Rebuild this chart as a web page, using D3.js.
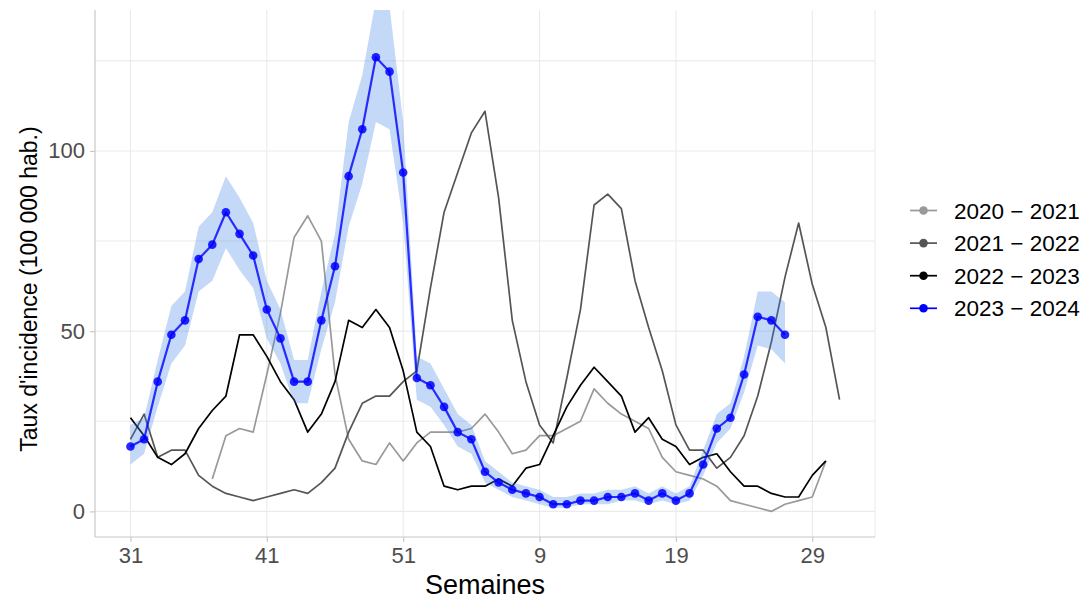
<!DOCTYPE html>
<html>
<head>
<meta charset="utf-8">
<script src="https://cdn.jsdelivr.net/npm/d3@7"></script>
<style>
body { margin: 0; background: #fff; }
svg { font-family: "Liberation Sans", Arial, sans-serif; }
</style>
</head>
<body>
<div class="container"></div>
<script>
const WIDTH = 1085;
const HEIGHT = 599;
const LEFT = 95, RIGHT = 875, TOP = 10, BOTTOM = 537;

// semaines de la saison (31 -> 31)
var weeks = [31, 32, 33, 34, 35, 36, 37, 38, 39, 40, 41, 42, 43, 44, 45, 46, 47, 48, 49, 50, 51, 52,
    1, 2, 3, 4, 5, 6, 7, 8, 9, 10, 11, 12, 13, 14, 15, 16, 17, 18, 19, 20, 21, 22, 23, 24, 25, 26, 27, 28, 29, 30, 31];

var seasons = ["2020 \u2212 2021", "2021 \u2212 2022", "2022 \u2212 2023", "2023 \u2212 2024"];
var colors = ["#999999", "#555555", "#000000", "#0000ff"];

var s2020 = [null, null, null, null, null, null, 9, 21, 23, 22, 38, 55, 76, 82, 75, 38,
    20, 14, 13, 19, 14, 19, 22, 22, 22, 23, 27, 22, 16, 17, 21, 21, 23, 25, 34, 30,
    27, 25, 23, 15, 11, 10, 9, 7, 3, 2, 1, 0, 2, 3, 4, 14, null];
var s2021 = [20, 27, 15, 17, 17, 10, 7, 5, 4, 3, 4, 5, 6, 5, 8, 12, 22, 30, 32, 32,
    36, 39, 62, 83, 94, 105, 111, 87, 53, 36, 24, 19, 37, 56, 85, 88, 84, 64, 51, 39,
    24, 17, 17, 12, 15, 21, 32, 47, 65, 80, 63, 51, 31];
var s2022 = [26, 21, 15, 13, 16, 23, 28, 32, 49, 49, 43, 36, 31, 22, 27, 36, 53, 51, 56, 51,
    39, 22, 18, 7, 6, 7, 7, 9, 7, 12, 13, 21, 29, 35, 40, 36, 32, 22, 26, 20,
    18, 13, 15, 16, 11, 7, 7, 5, 4, 4, 10, 14, null];
var s2023 = [18, 20, 36, 49, 53, 70, 74, 83, 77, 71, 56, 48, 36, 36, 53, 68, 93, 106, 126, 122,
    94, 37, 35, 29, 22, 20, 11, 8, 6, 5, 4, 2, 2, 3, 3, 4, 4, 5, 3, 5,
    3, 5, 13, 23, 26, 38, 54, 53, 49, null, null, null, null];
var low2023 = [13, 16, 29, 41, 46, 61, 64, 73, 67, 62, 48, 41, 30, 30, 45, 58, 79, 91, 108, 106,
    80, 31, 29, 24, 18, 16, 8, 6, 4, 3, 2, 1, 1, 2, 2, 2, 3, 3, 2, 3,
    2, 3, 10, 19, 23, 33, 46, 45, 41];
var high2023 = [24, 26, 42, 57, 61, 79, 83, 93, 87, 80, 64, 56, 42, 42, 61, 77, 108, 121, 142, 140,
    108, 43, 41, 34, 27, 24, 14, 11, 8, 7, 6, 4, 4, 5, 5, 6, 6, 7, 5, 7,
    5, 7, 17, 27, 30, 43, 61, 61, 58];

var yTicks = [0, 50, 100];
var yGrid = [0, 25, 50, 75, 100, 125];
var xTicks = [0, 10, 20, 30, 40, 50];

var xScale = d3.scaleLinear()
    .domain([-2.6, 54.6])
    .range([LEFT, RIGHT]);

var yScale = d3.scaleLinear()
    .domain([-7.1, 139.1])
    .range([BOTTOM, TOP]);

var svg = d3.select('.container').append('svg')
    .attr('width', WIDTH)
    .attr('height', HEIGHT);

svg.append('defs').append('clipPath').attr('id', 'panel')
    .append('rect')
    .attr('x', LEFT).attr('y', TOP)
    .attr('width', RIGHT - LEFT).attr('height', BOTTOM - TOP);

// grille
var grid = svg.append('g');
grid.selectAll('line.h').data(yGrid).enter().append('line')
    .attr('x1', LEFT).attr('x2', RIGHT)
    .attr('y1', yScale).attr('y2', yScale)
    .attr('stroke', '#ebebeb').attr('stroke-width', 1.1);
grid.selectAll('line.v').data(xTicks).enter().append('line')
    .attr('x1', xScale).attr('x2', xScale)
    .attr('y1', TOP).attr('y2', BOTTOM)
    .attr('stroke', '#ebebeb').attr('stroke-width', 1.1);
grid.append('line')
    .attr('x1', RIGHT).attr('x2', RIGHT)
    .attr('y1', TOP).attr('y2', BOTTOM)
    .attr('stroke', '#ebebeb').attr('stroke-width', 1.1);

var plot = svg.append('g').attr('clip-path', 'url(#panel)');

var line = d3.line()
    .defined(function (d) { return d != null; })
    .x(function (d, i) { return xScale(i); })
    .y(function (d) { return yScale(d); });

[s2020, s2021, s2022].forEach(function (s, k) {
    plot.append('path')
        .attr('d', line(s))
        .attr('fill', 'none')
        .attr('stroke', colors[k])
        .attr('stroke-width', 1.7)
        .attr('stroke-linejoin', 'round');
});

var ribbon = d3.area()
    .x(function (d, i) { return xScale(i); })
    .y0(function (d, i) { return yScale(low2023[i]); })
    .y1(function (d, i) { return yScale(high2023[i]); });

plot.append('path')
    .attr('d', ribbon(low2023))
    .attr('fill', '#3d7ee6')
    .attr('opacity', 0.3);

plot.append('path')
    .attr('d', line(s2023))
    .attr('fill', 'none')
    .attr('stroke', colors[3])
    .attr('stroke-opacity', 0.8)
    .attr('stroke-width', 2.2)
    .attr('stroke-linejoin', 'round');

plot.append('g').selectAll('circle')
    .data(s2023.map(function (d, i) { return [i, d]; }).filter(function (d) { return d[1] != null; }))
    .enter().append('circle')
    .attr('r', 4.3)
    .attr('cx', function (d) { return xScale(d[0]); })
    .attr('cy', function (d) { return yScale(d[1]); })
    .attr('fill', colors[3])
    .attr('fill-opacity', 0.85);

// axes
var xAxis = d3.axisBottom(xScale)
    .tickValues(xTicks)
    .tickFormat(function (i) { return weeks[i]; })
    .tickSize(5).tickPadding(5);
var yAxis = d3.axisLeft(yScale)
    .tickValues(yTicks)
    .tickSize(5).tickPadding(5);

var gx = svg.append('g')
    .attr('transform', 'translate(0,' + BOTTOM + ')')
    .call(xAxis);
gx.select('.domain').attr('d', 'M' + LEFT + ',0H' + RIGHT);

var gy = svg.append('g')
    .attr('transform', 'translate(' + LEFT + ',0)')
    .call(yAxis);
gy.select('.domain').attr('d', 'M0,' + TOP + 'V' + BOTTOM);

[gx, gy].forEach(function (g) {
    g.select('.domain').attr('stroke', '#c8c8c8').attr('stroke-width', 1.2);
    g.selectAll('.tick line').attr('stroke', '#c8c8c8').attr('stroke-width', 1.2);
    g.selectAll('.tick text')
        .attr('fill', '#4d4d4d')
        .style('font-size', '22px')
        .style('font-family', '"Liberation Sans", Arial, sans-serif');
});

svg.append('text')
    .attr('x', (LEFT + RIGHT) / 2)
    .attr('y', 594)
    .attr('text-anchor', 'middle')
    .style('font-size', '27px')
    .text('Semaines');

svg.append('text')
    .attr('transform', 'translate(37,289) rotate(-90)')
    .attr('text-anchor', 'middle')
    .style('font-size', '23px')
    .text("Taux d'incidence (100 000 hab.)");

// légende
var legend = svg.append('g');
var rows = legend.selectAll('g').data(seasons).enter().append('g')
    .attr('transform', function (d, i) { return 'translate(910,' + (210.5 + i * 32.6) + ')'; });
rows.append('line')
    .attr('x1', 0).attr('x2', 27)
    .attr('stroke', function (d, i) { return colors[i]; })
    .attr('stroke-width', 1.7);
rows.append('circle')
    .attr('cx', 13.5).attr('r', 4.3)
    .attr('fill', function (d, i) { return colors[i]; });
rows.append('text')
    .attr('x', 44)
    .attr('dy', '0.36em')
    .style('font-size', '22.5px')
    .text(function (d) { return d; });
</script>
</body>
</html>
